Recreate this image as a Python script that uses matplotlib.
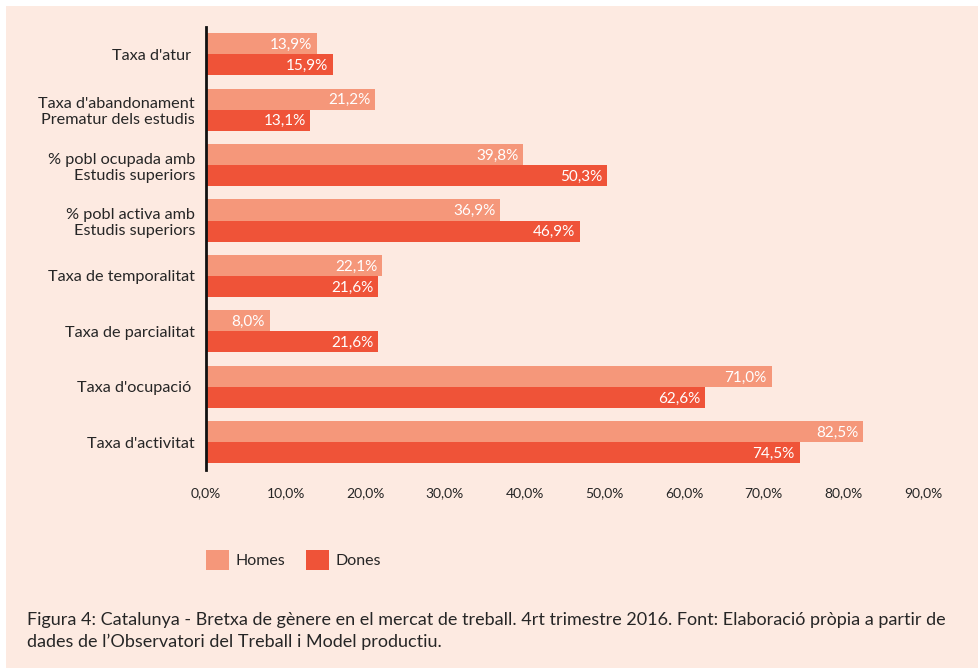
#-----Gender gap chart, Catalunya 2016-----#
import numpy as np
import matplotlib.pyplot as plt
from matplotlib.patches import Rectangle

#-----Data-----#
categories = ["Taxa d'atur ", "Taxa d'abandonament\nPrematur dels estudis",
              "% pobl ocupada amb\nEstudis superiors", "% pobl activa amb\nEstudis superiors",
              "Taxa de temporalitat", "Taxa de parcialitat", "Taxa d'ocupació ",
              "Taxa d'activitat"]
homes = [13.9, 21.2, 39.8, 36.9, 22.1, 8.0, 71.0, 82.5]
dones = [15.9, 13.1, 50.3, 46.9, 21.6, 21.6, 62.6, 74.5]
xticks = [0, 10, 20, 30, 40, 50, 60, 70, 80, 90]
caption = ("Figura 4: Catalunya - Bretxa de gènere en el mercat de treball. 4rt trimestre 2016. "
           "Font: Elaboració pròpia a partir de\ndades de l\u2019Observatori del Treball i Model productiu.")

#-----Style-----#
W, H = 979, 668
bg = '#fdeae1'
c_homes = '#f5977a'
c_dones = '#ef5338'
txt = '#262626'
plt.rcParams['font.family'] = ['Lato', 'DejaVu Sans']

fig = plt.figure(figsize=(W / 100, H / 100), dpi=100, facecolor='white')
fig.patches.append(Rectangle((6 / W, 0), 1 - 6 / W, 1 - 6 / H, transform=fig.transFigure,
                             facecolor=bg, edgecolor='none', zorder=-10))

ax = fig.add_axes([206 / W, 1 - 470 / H, (923 - 206) / W, (470 - 27) / H])
ax.set_facecolor(bg)
ax.patch.set_alpha(0)

y = np.arange(len(categories))
h = 0.38
b1 = ax.barh(y - h / 2, homes, height=h, color=c_homes, label='Homes')
b2 = ax.barh(y + h / 2, dones, height=h, color=c_dones, label='Dones')

for bars, vals in ((b1, homes), (b2, dones)):
    for bar, v in zip(bars, vals):
        ax.text(v - 0.6, bar.get_y() + bar.get_height() / 2 + 0.02,
                f"{v:.1f}%".replace('.', ','), ha='right', va='center',
                color='white', fontsize=11)

ax.set_xlim(0, 90)
ax.set_ylim(len(categories) - 0.5, -0.49)
ax.set_xticks(xticks)
ax.set_xticklabels([f"{t:.1f}%".replace('.', ',') for t in xticks], fontsize=10, color=txt)
ax.set_yticks(y)
ax.set_yticklabels(categories, fontsize=11.7, color=txt, linespacing=1.2)
ax.tick_params(axis='both', length=0)
ax.tick_params(axis='y', pad=8)
ax.tick_params(axis='x', pad=12)
for s in ['top', 'right', 'bottom']:
    ax.spines[s].set_visible(False)
ax.spines['left'].set_linewidth(2)
ax.spines['left'].set_color('#111111')

#-----Legend-----#
fig.legend(handles=[b1, b2], loc='center left', bbox_to_anchor=(206 / W, 1 - 560 / H),
           ncol=2, frameon=False, fontsize=11.5, handlelength=1.45, handleheight=1.55,
           handletextpad=0.4, columnspacing=1.3, borderpad=0, borderaxespad=0,
           labelcolor=txt)

#-----Caption-----#
fig.text(27 / W, 1 - 631 / H, caption, ha='left', va='center', fontsize=13.0,
         color=txt, linespacing=1.35)

fig.savefig('out.png', dpi=100, facecolor='white')
